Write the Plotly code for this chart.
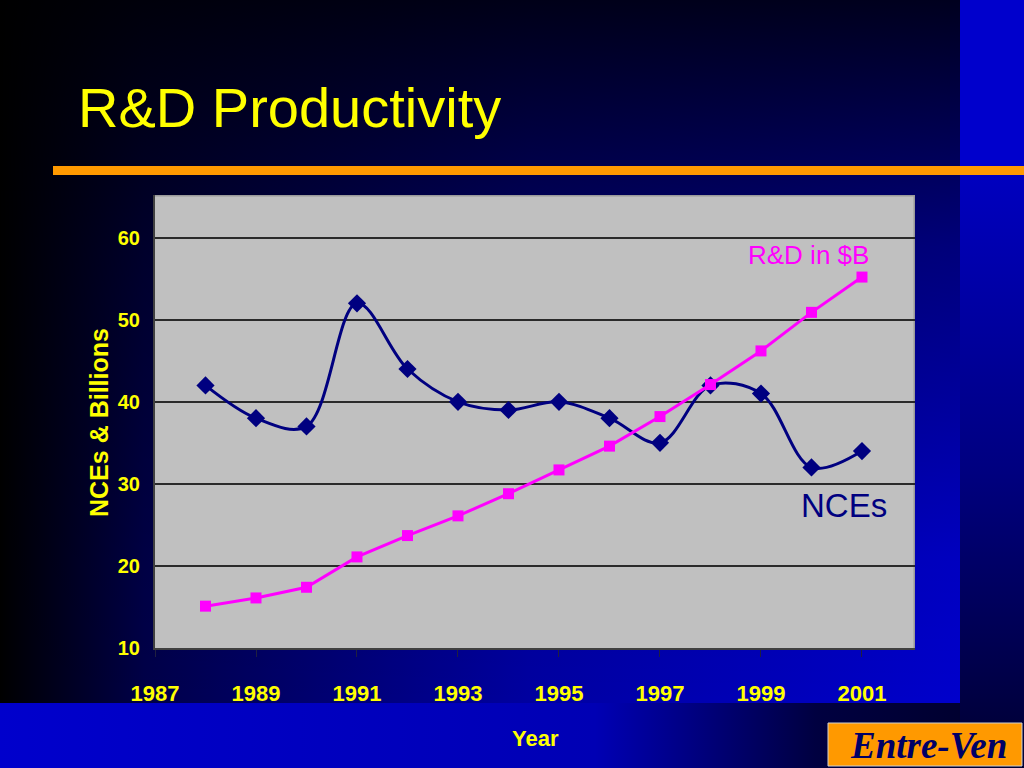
import base64
import plotly.graph_objects as go

# ---------------- data ----------------
years = [1988, 1989, 1990, 1991, 1992, 1993, 1994, 1995, 1996, 1997, 1998, 1999, 2000, 2001]
nces = [42, 38, 37, 52, 44, 40, 39, 40, 38, 35, 42, 41, 32, 34]
rd_billions = [15.1, 16.1, 17.4, 21.1, 23.7, 26.1, 28.8, 31.7, 34.6, 38.2, 42.1, 46.2, 50.9, 55.2]
x_ticks = [1987, 1989, 1991, 1993, 1995, 1997, 1999, 2001]
y_ticks = [10, 20, 30, 40, 50, 60]

# ---------------- page geometry ----------------
W, H = 1024, 768
L, R, T, B = 155, 915, 195, 648  # plot area in pixels


def px(x):
    return (x - L) / (R - L)


def py(y):
    return (B - y) / (B - T)


svg = f"""<svg xmlns="http://www.w3.org/2000/svg" width="1024" height="768" viewBox="0 0 1024 768" preserveAspectRatio="none">
<defs>
<linearGradient id="h" x1="0" y1="0" x2="1" y2="0">
<stop offset="0" stop-color="#000000"/><stop offset="0.15" stop-color="#000048"/>
<stop offset="0.55" stop-color="#0000a0"/><stop offset="1" stop-color="#0000cc"/>
</linearGradient>
<linearGradient id="v" x1="0" y1="0" x2="0" y2="1">
<stop offset="0" stop-color="#000000" stop-opacity="0.85"/>
<stop offset="0.35" stop-color="#000000" stop-opacity="0.4"/>
<stop offset="0.8" stop-color="#000000" stop-opacity="0.06"/>
<stop offset="1" stop-color="#000000" stop-opacity="0"/>
</linearGradient>
<linearGradient id="b" x1="0" y1="0" x2="1" y2="0">
<stop offset="0" stop-color="#0000cc"/><stop offset="0.62" stop-color="#0000b4"/>
<stop offset="0.85" stop-color="#000040"/><stop offset="1" stop-color="#000030"/>
</linearGradient>
<linearGradient id="r" x1="0" y1="0" x2="0" y2="1">
<stop offset="0" stop-color="#0000c0"/><stop offset="0.5" stop-color="#000080"/>
<stop offset="1" stop-color="#000030"/>
</linearGradient>
</defs>
<rect x="0" y="0" width="1024" height="768" fill="#000030"/>
<rect x="0" y="0" width="960" height="703" fill="url(#h)"/>
<rect x="0" y="0" width="960" height="703" fill="url(#v)"/>
<rect x="960" y="0" width="64" height="170" fill="#0000cc"/>
<rect x="960" y="170" width="64" height="598" fill="url(#r)"/>
<rect x="0" y="703" width="960" height="65" fill="url(#b)"/>
<rect x="{L}" y="{T}" width="{R - L}" height="{B - T}" fill="#c0c0c0"/>
<rect x="{L}" y="{T}" width="{R - L}" height="1.5" fill="#9a9a9a"/>
<rect x="{R - 1.5}" y="{T}" width="1.5" height="{B - T}" fill="#9a9a9a"/>
</svg>"""
bg_uri = "data:image/svg+xml;base64," + base64.b64encode(svg.encode()).decode()

fig = go.Figure()

fig.add_trace(go.Scatter(
    x=years, y=nces, name="NCEs", mode="lines+markers",
    line=dict(color="#000080", width=3, shape="spline", smoothing=1.0),
    marker=dict(symbol="diamond", size=14, color="#000080"),
    showlegend=False,
))
fig.add_trace(go.Scatter(
    x=years, y=rd_billions, name="R&D in $B", mode="lines+markers",
    line=dict(color="#ff00ff", width=3),
    marker=dict(symbol="square", size=11, color="#ff00ff"),
    showlegend=False,
))

x_tick_font = dict(family="Liberation Sans, Arial, sans-serif", size=22, color="#ffff00")
y_tick_font = dict(family="Liberation Sans, Arial, sans-serif", size=20, color="#ffff00")

fig.update_xaxes(
    range=[1987, 2002.05], tickvals=x_ticks, ticktext=[f"<b>{v}</b>" for v in x_ticks],
    ticks="outside", ticklen=7, tickcolor="#202040", tickwidth=1,
    ticklabelstandoff=18, tickfont=x_tick_font,
    showgrid=False, zeroline=False,
    showline=True, linecolor="#404040", linewidth=2,
)
fig.update_yaxes(
    range=[10, 65.2], tickvals=y_ticks, ticktext=[f"<b>{v}</b>" for v in y_ticks],
    ticks="", ticklabelstandoff=9, tickfont=y_tick_font,
    showgrid=True, gridcolor="#2a2a2a", gridwidth=1.5, zeroline=False,
    showline=True, linecolor="#404040", linewidth=2,
)

annotations = [
    dict(x=px(76), y=py(108), xref="paper", yref="paper", xanchor="left", yanchor="middle",
         text="R&D Productivity", showarrow=False,
         font=dict(family="Liberation Sans, Arial, sans-serif", size=56, color="#ffff00")),
    dict(x=px(99), y=py(423), xref="paper", yref="paper", xanchor="center", yanchor="middle",
         text="<b>NCEs & Billions</b>", textangle=-90, showarrow=False,
         font=dict(family="Liberation Sans, Arial, sans-serif", size=25, color="#ffff00")),
    dict(x=px(535), y=py(738), xref="paper", yref="paper", xanchor="center", yanchor="middle",
         text="<b>Year</b>", showarrow=False,
         font=dict(family="Liberation Sans, Arial, sans-serif", size=22, color="#ffff00")),
    dict(x=px(808), y=py(255), xref="paper", yref="paper", xanchor="center", yanchor="middle",
         text="R&D in $B", showarrow=False,
         font=dict(family="Liberation Sans, Arial, sans-serif", size=26, color="#ff00ff")),
    dict(x=px(844), y=py(505), xref="paper", yref="paper", xanchor="center", yanchor="middle",
         text="NCEs", showarrow=False,
         font=dict(family="Liberation Sans, Arial, sans-serif", size=33, color="#000080")),
    dict(x=px(928), y=py(745), xref="paper", yref="paper", xanchor="center", yanchor="middle",
         text="<b><i>Entre-Ven</i></b>", showarrow=False,
         font=dict(family="Liberation Serif, Times New Roman, serif", size=37, color="#000066")),
]

shapes = [
    # orange rule under the title
    dict(type="rect", xref="paper", yref="paper", x0=px(53), x1=px(1024), y0=py(166), y1=py(175),
         fillcolor="#ff9900", line=dict(width=0), layer="above"),
    # Entre-Ven badge
    dict(type="rect", xref="paper", yref="paper", x0=px(828), x1=px(1022), y0=py(723), y1=py(766),
         fillcolor="#ff9900", line=dict(color="#d0d0d0", width=1), layer="above"),
]

fig.update_layout(
    width=W, height=H, autosize=False,
    margin=dict(l=L, r=W - R, t=T, b=H - B, pad=0),
    paper_bgcolor="#000030", plot_bgcolor="rgba(0,0,0,0)",
    annotations=annotations, shapes=shapes,
    images=[dict(source=bg_uri, xref="paper", yref="paper",
                 x=px(0), y=py(0), sizex=W / (R - L), sizey=H / (B - T),
                 xanchor="left", yanchor="top", sizing="stretch", layer="below")],
    showlegend=False,
)

fig.write_html("out.html", config={"displayModeBar": False},
               post_script="document.body.style.margin='0';document.body.style.overflow='hidden';")
